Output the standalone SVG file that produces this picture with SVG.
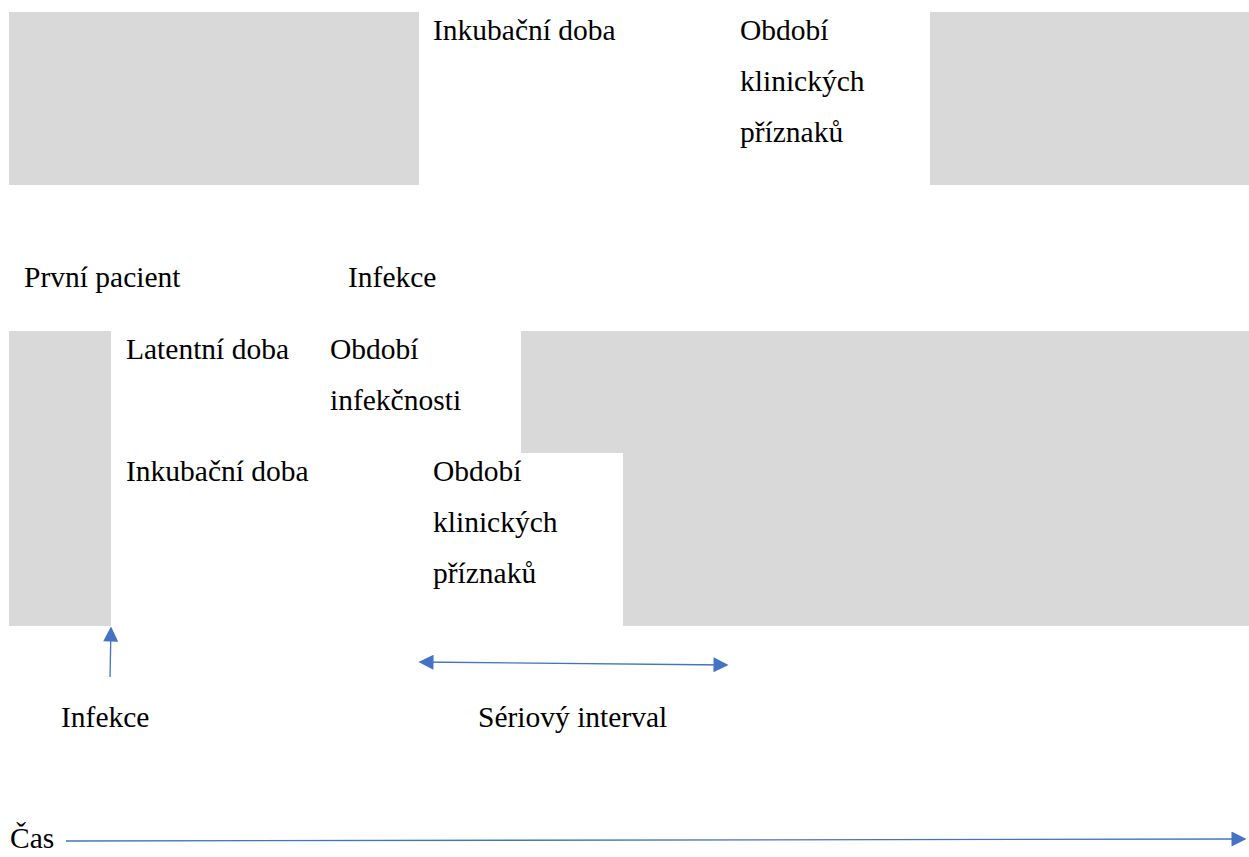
<svg xmlns="http://www.w3.org/2000/svg" width="1249" height="857" viewBox="0 0 1249 857">
<style>
.t{font-family:"Liberation Serif","Times New Roman",serif;font-size:29.5px;fill:#000}
.g{fill:#d9d9d9}
.c{stroke:#4472c4;stroke-width:1.3;fill:none}
</style>
<defs>
<marker id="ah" viewBox="0 0 10 10" refX="9" refY="5" markerWidth="16" markerHeight="15" markerUnits="userSpaceOnUse" orient="auto-start-reverse">
<path d="M0,0 L10,5 L0,10 z" fill="#4472c4"/>
</marker>
</defs>
<rect width="1249" height="857" fill="#fff"/>
<g id="top-left-block"><rect class="g" x="9" y="12" width="410" height="173"/></g>
<g id="top-right-block"><rect class="g" x="930" y="12" width="319" height="173"/></g>
<g id="top-incubation"><text class="t" x="433" y="40">Inkubační doba</text></g>
<g id="top-clinical"><text class="t" x="740" y="40">Období</text><text class="t" x="740" y="91">klinických</text><text class="t" x="740" y="142">příznaků</text></g>
<g id="first-patient"><text class="t" x="24" y="287">První pacient</text></g>
<g id="infection-top"><text class="t" x="348" y="287">Infekce</text></g>
<g id="mid-left-block"><rect class="g" x="9" y="331" width="102" height="295"/></g>
<g id="mid-right-block"><polygon class="g" points="521,331 1249,331 1249,626 623,626 623,453 521,453"/></g>
<g id="latent"><text class="t" x="126" y="359">Latentní doba</text></g>
<g id="infectious"><text class="t" x="330" y="359">Období</text><text class="t" x="330" y="410">infekčnosti</text></g>
<g id="mid-incubation"><text class="t" x="126" y="481">Inkubační doba</text></g>
<g id="mid-clinical"><text class="t" x="433" y="481">Období</text><text class="t" x="433" y="532">klinických</text><text class="t" x="433" y="583">příznaků</text></g>
<g id="infection-bottom"><text class="t" x="61" y="727">Infekce</text></g>
<g id="serial-interval"><text class="t" x="478" y="727">Sériový interval</text></g>
<g id="time"><text class="t" x="10" y="848">Čas</text></g>
<g id="connectors">
<line class="c" x1="110" y1="677" x2="111" y2="628" marker-end="url(#ah)"/>
<line class="c" x1="420" y1="662" x2="727" y2="665" marker-start="url(#ah)" marker-end="url(#ah)"/>
<line class="c" x1="66" y1="841" x2="1245" y2="839" marker-end="url(#ah)"/>
</g>
</svg>
